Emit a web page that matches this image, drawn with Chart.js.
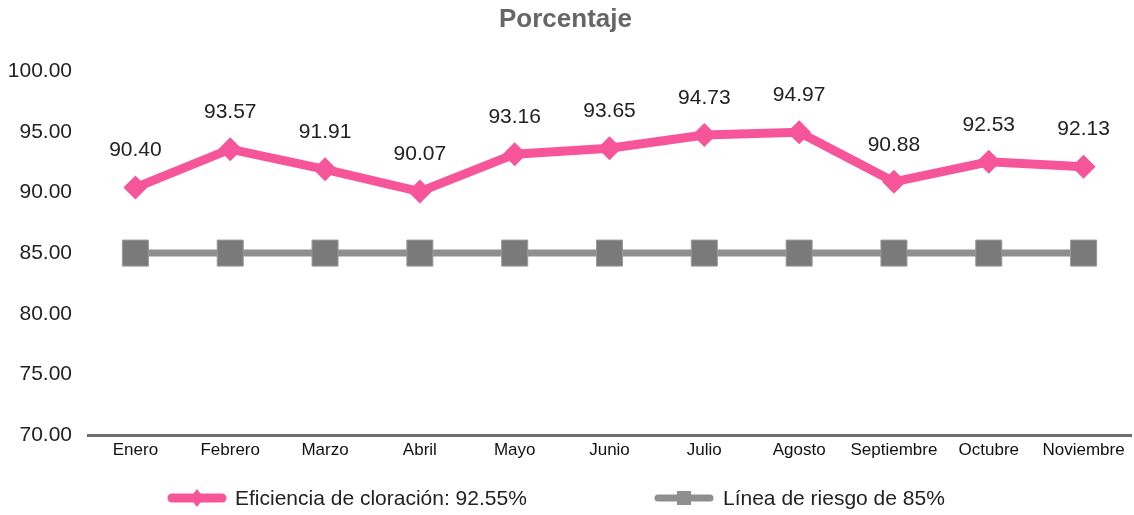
<!DOCTYPE html>
<html>
<head>
<meta charset="utf-8">
<script src="https://cdn.jsdelivr.net/npm/chart.js@4"></script>
<style>
  html, body { margin: 0; padding: 0; background: #fff; overflow: hidden; }
  #wrap { width: 1134px; height: 515px; }
  canvas { display: block; }
</style>
</head>
<body>
<div id="wrap"><canvas id="myChart" width="1134" height="515"></canvas></div>
<script>
const months = ["Enero", "Febrero", "Marzo", "Abril", "Mayo", "Junio", "Julio", "Agosto", "Septiembre", "Octubre", "Noviembre"];
const eficiencia = [90.40, 93.57, 91.91, 90.07, 93.16, 93.65, 94.73, 94.97, 90.88, 92.53, 92.13];
const riesgo = [85, 85, 85, 85, 85, 85, 85, 85, 85, 85, 85];
const seriesNames = ["Eficiencia de cloración: 92.55%", "Línea de riesgo de 85%"];
const chartTitle = "Porcentaje";

const pink = "#f7559a";
const grayLine = "#8f8f8f";
const grayMark = "#7a7a7a";
const font = "'Liberation Sans', Arial, Helvetica, sans-serif";

// etiquetas de valor encima de cada punto
const valueLabels = {
  id: "valueLabels",
  afterDatasetsDraw(chart) {
    const ctx = chart.ctx;
    const meta = chart.getDatasetMeta(0);
    ctx.save();
    ctx.font = "21px " + font;
    ctx.fillStyle = "#222";
    ctx.textAlign = "center";
    ctx.textBaseline = "middle";
    meta.data.forEach((pt, i) => {
      ctx.fillText(eficiencia[i].toFixed(2), pt.x, pt.y - 37);
    });
    ctx.restore();
  }
};

// leyenda abajo con linea + marcador
const bottomLegend = {
  id: "bottomLegend",
  afterDraw(chart) {
    const ctx = chart.ctx;
    const y = 498;
    ctx.save();
    ctx.lineCap = "round";
    // pink
    ctx.strokeStyle = pink;
    ctx.lineWidth = 9;
    ctx.beginPath(); ctx.moveTo(172, y); ctx.lineTo(222, y); ctx.stroke();
    ctx.fillStyle = pink;
    ctx.beginPath();
    ctx.moveTo(197, y - 9); ctx.lineTo(204, y); ctx.lineTo(197, y + 9); ctx.lineTo(190, y);
    ctx.closePath(); ctx.fill();
    // gray
    ctx.strokeStyle = grayLine;
    ctx.lineWidth = 7;
    ctx.beginPath(); ctx.moveTo(658, y); ctx.lineTo(710, y); ctx.stroke();
    ctx.fillStyle = grayLine;
    ctx.fillRect(677, y - 7, 14, 14);
    ctx.font = "21px " + font;
    ctx.fillStyle = "#222";
    ctx.textBaseline = "middle";
    ctx.textAlign = "left";
    ctx.fillText(seriesNames[0], 235, y + 1);
    ctx.fillText(seriesNames[1], 723, y + 1);
    ctx.restore();
  }
};

new Chart("myChart", {
  type: "line",
  data: {
    labels: months,
    datasets: [
      {
        label: seriesNames[0],
        data: eficiencia,
        borderColor: pink,
        backgroundColor: pink,
        borderWidth: 9,
        pointStyle: "rectRot",
        pointRadius: 12,
        pointBorderWidth: 0,
        pointBackgroundColor: pink,
        fill: false,
        tension: 0,
        order: 1,
      },
      {
        label: seriesNames[1],
        data: riesgo,
        borderColor: grayLine,
        backgroundColor: grayMark,
        borderWidth: 7,
        pointStyle: "rect",
        pointRadius: 18.4,
        pointBorderWidth: 1,
        pointBorderColor: "#999",
        pointBackgroundColor: grayMark,
        fill: false,
        tension: 0,
        order: 2,
      },
    ],
  },
  options: {
    responsive: false,
    animation: false,
    layout: { autoPadding: false, padding: { top: 0, bottom: 50, left: 0, right: 3 } },
    plugins: {
      legend: { display: false },
      tooltip: { enabled: false },
      title: {
        display: true,
        text: chartTitle,
        color: "#666",
        font: { family: font, size: 26, weight: "bold" },
        padding: { top: 4, bottom: 36 },
      },
    },
    scales: {
      x: {
        offset: true,
        grid: { display: false, drawTicks: false },
        border: { display: true, color: "#6e6e6e", width: 3 },
        ticks: { color: "#111", font: { family: font, size: 17 }, padding: 5, maxRotation: 0, autoSkip: false },
        afterFit(scale) {
          scale.height = 30;
          scale.paddingLeft = 0;
          scale.paddingRight = 0;
        },
      },
      y: {
        min: 70,
        max: 100,
        grid: { display: false, drawTicks: false },
        border: { display: false },
        ticks: {
          stepSize: 5,
          color: "#222",
          font: { family: font, size: 21 },
          padding: 16,
          callback: (v) => Number(v).toFixed(2),
        },
        afterFit(scale) { scale.width = 88; },
      },
    },
  },
  plugins: [valueLabels, bottomLegend],
});
</script>
</body>
</html>
